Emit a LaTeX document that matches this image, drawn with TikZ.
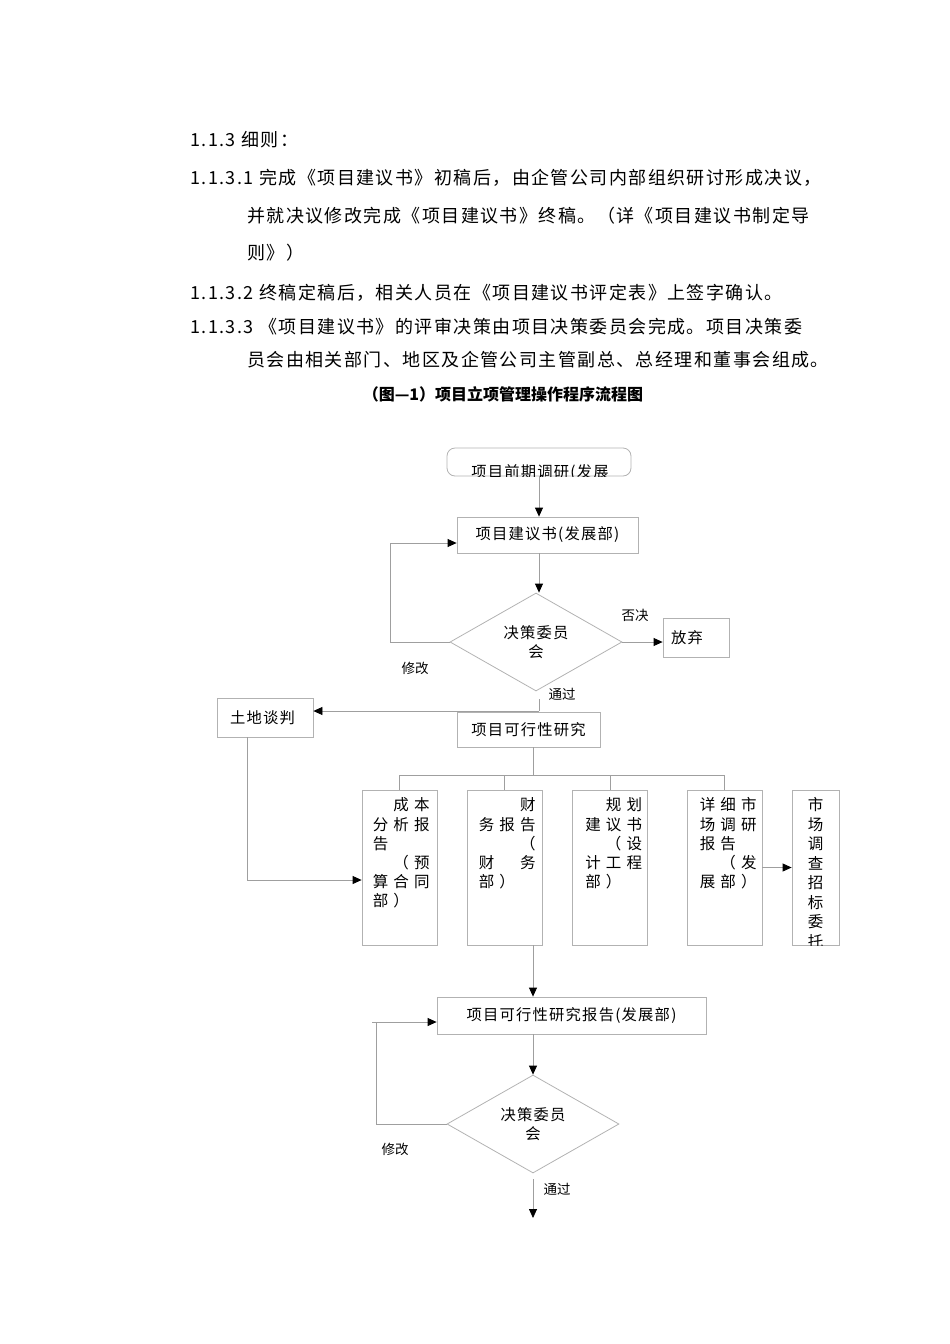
\documentclass[tikz,border=0pt]{standalone}
\usepackage{fontspec}
\setmainfont{Noto Sans CJK SC}
\newfontfamily\bodyfont[LetterSpace=8]{Noto Sans CJK SC}
\newfontfamily\boxfont[LetterSpace=8]{Noto Sans CJK SC}
\newfontfamily\colfont[LetterSpace=33]{Noto Sans CJK SC}
\usetikzlibrary{arrows.meta,shapes.geometric}

\begin{document}
\begin{tikzpicture}[x=1pt,y=-1pt,
  line/.style={draw=gray!75, line width=0.8pt},
  arr/.style={line, -{Triangle[length=9pt,width=8pt,color=black]}},
  box/.style={draw=gray!60, line width=0.8pt, rectangle, inner sep=0,
    font=\boxfont\fontsize{15.3}{19}\selectfont},
  colbox/.style={box, minimum width=75pt, minimum height=155pt},
  coltext/.style={anchor=north west, inner sep=0, align=left,
    font=\colfont\fontsize{15.5}{19.2}\selectfont},
  decision/.style={draw=gray!60, line width=0.8pt, diamond, inner sep=0,
    minimum width=172pt, minimum height=96pt, align=center,
    font=\boxfont\fontsize{15.3}{19}\selectfont},
  bodytext/.style={anchor=west, inner sep=0, font=\bodyfont\fontsize{18}{18}\selectfont},
  caption/.style={inner sep=0, font=\bfseries\fontsize{16}{16}\selectfont},
  lbl/.style={inner sep=0, font=\fontsize{13.5}{14}\selectfont}]
\useasboundingbox (0,0) rectangle (950,1344);

% text above the chart
\node[bodytext] (h0) at (190,140) {1.1.3 细则：};
\node[bodytext] (h1) at (190,178) {1.1.3.1 完成《项目建议书》初稿后，由企管公司内部组织研讨形成决议，};
\node[bodytext] (h1b) at (247,216) {并就决议修改完成《项目建议书》终稿。（详《项目建议书制定导};
\node[bodytext] (h1c) at (247,253) {则》）};
\node[bodytext] (h2) at (190,293) {1.1.3.2 终稿定稿后，相关人员在《项目建议书评定表》上签字确认。};
\node[bodytext] (h3) at (190,327) {1.1.3.3 《项目建议书》的评审决策由项目决策委员会完成。项目决策委};
\node[bodytext] (h3b) at (247,360) {员会由相关部门、地区及企管公司主管副总、总经理和董事会组成。};
\node[caption] (cap) at (503,394) {（图—1）项目立项管理操作程序流程图};

% first stage
\node[box, rounded corners=8pt, minimum width=184pt, minimum height=28pt] (survey) at (539,462) {};
\begin{scope}
  \clip[rounded corners=8pt] (survey.south west) rectangle (survey.north east);
  \node[box, draw=none] at (540,473) {项目前期调研(发展};
\end{scope}
\node[box, minimum width=181pt, minimum height=36pt] (proposal) at (547.5,535) {项目建议书(发展部)};
\node[decision] (dia1) at (536,642) {决策委员\\会};
\node[box, minimum width=66pt, minimum height=39pt, text width=50pt, align=left] (quit) at (696,637.5) {放弃};
\node[box, minimum width=96pt, minimum height=39pt, text width=70pt, align=left] (land) at (265,717.5) {土地谈判};
\node[box, minimum width=143pt, minimum height=35pt] (feas) at (528.5,729.5) {项目可行性研究};

\draw[arr] (survey.south) -- (survey.south |- proposal.north);
\draw[arr] (survey.south |- proposal.south) -- (survey.south |- dia1.north);
\draw[arr] (dia1.east) -- (dia1.east -| quit.west);
\coordinate (loop1) at (390,543);
\draw[arr] (dia1.west) -| (loop1) -- (loop1 -| proposal.west);
\node[lbl] at (635,615) {否决};
\node[lbl] at (415,668) {修改};
\node[lbl] at (562,694) {通过};
\coordinate (split1) at (539,711);
\draw[line] ([yshift=-8pt]dia1.south -| split1) -- (split1);
\draw[arr] (split1) -- (split1 -| land.east);

% reports
\node[colbox] (cost) at (399.5,867.5) {};
\node[colbox] (fin) at (504.5,867.5) {};
\node[colbox] (plan) at (610,867.5) {};
\node[colbox] (detail) at (724.5,867.5) {};
\node[colbox, minimum width=47pt] (market) at (815.5,867.5) {};
\node[coltext] at ([shift={(11,8)}]cost.north west) {　成本\\分析报\\告\\　（预\\算合同\\部）};
\node[coltext] at ([shift={(12,8)}]fin.north west) {　　财\\务报告\\　　（\\财　务\\部）};
\node[coltext] at ([shift={(13,8)}]plan.north west) {　规划\\建议书\\　（设\\计工程\\部）};
\node[coltext] at ([shift={(13,8)}]detail.north west) {详细市\\场调研\\报告\\　（发\\展部）};
\begin{scope}
  \clip (market.south west) rectangle (market.north east);
  \node[anchor=north, inner sep=0, align=center, font=\fontsize{15.5}{19.5}\selectfont]
    at ([yshift=-8pt]market.north) {市\\场\\调\\查\\招\\标\\委\\托};
\end{scope}

\coordinate (bus) at (533,775);
\draw[line] (feas.south -| bus) -- (bus);
\draw[line] (cost.north |- bus) -- (detail.north |- bus);
\foreach \n in {cost,fin,plan,detail}
  \draw[line] (\n.north |- bus) -- (\n.north);
\draw[arr] ([xshift=-18pt]land.south) |- ([yshift=-12.5pt]cost.west);
\draw[arr] (detail.east) -- (market.west);

% second stage
\node[box, minimum width=269pt, minimum height=37pt] (report) at (571.5,1015.5) {项目可行性研究报告(发展部)};
\node[decision] (dia2) at (533,1124) {决策委员\\会};
\coordinate (merge) at (533,945);
\draw[arr] (merge) -- (merge |- report.north);
\draw[arr] (dia2.north |- report.south) -- (dia2.north);
\coordinate (loop2) at (376,1022);
\draw[arr] (dia2.west) -| (loop2) -- (loop2 -| report.west);
\draw[line] (loop2) -- ++(-4,0);
\node[lbl] at (395,1149) {修改};
\node[lbl] at (557,1189) {通过};
\coordinate (exit) at (533,1218);
\draw[arr] ([yshift=-6pt]dia2.south) -- (exit);
\end{tikzpicture}
\end{document}
